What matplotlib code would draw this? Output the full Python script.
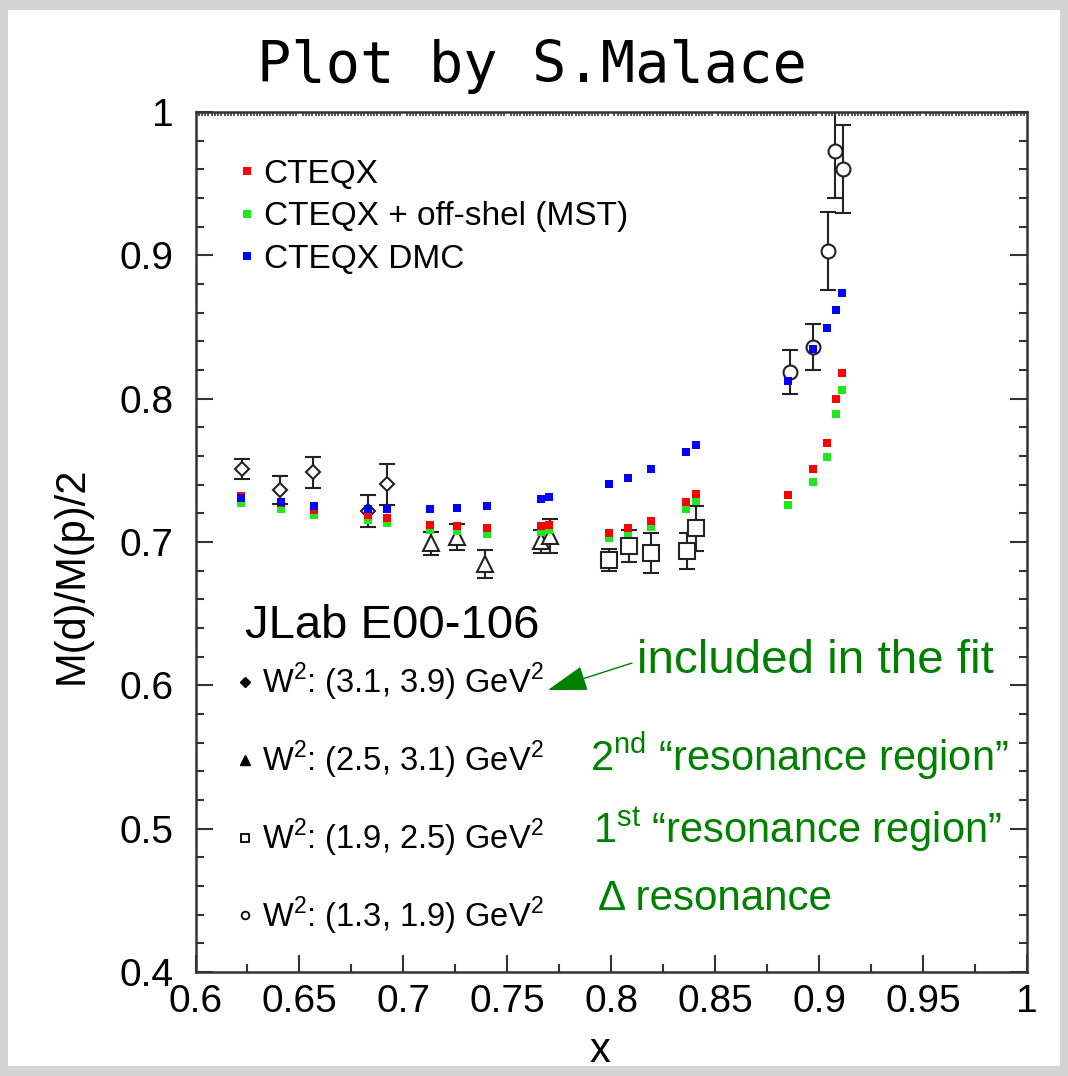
"""Deuteron/proton ratio vs x with CTEQX model curves and JLab E00-106 data."""

import matplotlib
matplotlib.use('Agg')
import matplotlib.pyplot as plt
from matplotlib.lines import Line2D
from matplotlib.patches import Rectangle
from matplotlib.ticker import MultipleLocator, FuncFormatter
import numpy as np

plt.rcParams['font.family'] = ['Liberation Sans', 'DejaVu Sans']
plt.rcParams['mathtext.fontset'] = 'custom'
plt.rcParams['mathtext.rm'] = 'Liberation Sans'

# model points (same x for all three curves)
x_model = [0.622, 0.641, 0.657, 0.683, 0.692, 0.713, 0.726, 0.740, 0.766, 0.770,
           0.799, 0.808, 0.819, 0.836, 0.841, 0.885, 0.897, 0.904, 0.908, 0.911]
cteqx = [0.732, 0.727, 0.722, 0.719, 0.7165, 0.712, 0.711, 0.7095, 0.711, 0.712,
         0.7065, 0.710, 0.7148, 0.728, 0.7334, 0.733, 0.7506, 0.769, 0.800, 0.818]
cteqx_mst = [0.727, 0.7227, 0.719, 0.7153, 0.713, 0.7083, 0.7076, 0.7055, 0.707, 0.7083,
             0.7025, 0.706, 0.7106, 0.7227, 0.7285, 0.7258, 0.742, 0.7595, 0.789, 0.806]
cteqx_dmc = [0.731, 0.7276, 0.725, 0.7227, 0.7227, 0.723, 0.7239, 0.7251, 0.7299, 0.7311,
             0.7402, 0.7448, 0.7507, 0.763, 0.7676, 0.8125, 0.835, 0.8495, 0.8618, 0.8739]

# JLab E00-106 data, by W^2 bin
x_w4 = [0.6222, 0.6406, 0.6567, 0.6828, 0.6919]
y_w4 = [0.7507, 0.7362, 0.7486, 0.7215, 0.7402]
e_w4 = [0.007, 0.010, 0.011, 0.011, 0.0145]

x_w3 = [0.7132, 0.7259, 0.7395, 0.7664, 0.7704]
y_w3 = [0.699, 0.7037, 0.6846, 0.7006, 0.704]
e_w3 = [0.008, 0.009, 0.010, 0.008, 0.012]

x_w2 = [0.7988, 0.8084, 0.8193, 0.8362, 0.841]
y_w2 = [0.6874, 0.6971, 0.6925, 0.6937, 0.7095]
e_w2 = [0.0075, 0.011, 0.014, 0.0125, 0.0155]

x_w1 = [0.8858, 0.897, 0.9042, 0.9075, 0.9114]
y_w1 = [0.8186, 0.8362, 0.903, 0.973, 0.9602]
e_w1 = [0.0152, 0.016, 0.027, 0.033, 0.031]

W = 1068
H = 1076
fig = plt.figure(figsize=(W / 100, H / 100), dpi=100)
fig.patch.set_facecolor('#d3d3d3')
fig.add_artist(Rectangle((8 / W, 10 / H), (1060 - 8) / W, (1066 - 10) / H,
                         transform=fig.transFigure, facecolor='white',
                         edgecolor='none', zorder=0))

ax = fig.add_axes([195.5 / W, 104 / H, 831.5 / W, 860 / H])
ax.set_facecolor('white')

# --- data with error bars ---
ebar = dict(ls='none', color='#222222', ecolor='#222222', elinewidth=1.5,
            capsize=6, capthick=1.5, mfc='white', mec='#222222', mew=1.5, zorder=3)
ax.errorbar(x_w4, y_w4, yerr=e_w4, marker='D', ms=6.8, **ebar)
ax.errorbar(x_w3, y_w3, yerr=e_w3, marker='^', ms=12, **ebar)
ax.errorbar(x_w2, y_w2, yerr=e_w2, marker='s', ms=12, **ebar)
ax.errorbar(x_w1, y_w1, yerr=e_w1, marker='o', ms=10, **ebar)

# --- model curves (small filled squares) ---
h_red, = ax.plot(x_model, cteqx, 's', color='#ff0000', ms=5.5, mew=0, zorder=5)
h_grn, = ax.plot(x_model, cteqx_mst, 's', color='#1ee81e', ms=5.5, mew=0, zorder=4)
h_blu, = ax.plot(x_model, cteqx_dmc, 's', color='#0000ff', ms=5.5, mew=0, zorder=6)

leg1 = ax.legend([h_red, h_grn, h_blu],
                 ['CTEQX', 'CTEQX + off-shel (MST)', 'CTEQX DMC'],
                 loc='upper left', bbox_to_anchor=(0.054, 0.9455), frameon=False,
                 fontsize=24, handlelength=0.4, handletextpad=0.3,
                 labelspacing=0.34, borderpad=0, borderaxespad=0)
ax.add_artist(leg1)

k = dict(ls='none', color='black')
proxies = [Line2D([], [], marker='D', ms=5, mfc='black', mec='black', **k),
           Line2D([], [], marker='^', ms=7, mfc='black', mec='black', **k),
           Line2D([], [], marker='s', ms=5.5, mfc='white', mec='black', mew=1.3, **k),
           Line2D([], [], marker='o', ms=5.5, mfc='white', mec='black', mew=1.3, **k)]
w2_labels = [r'W$^{\mathregular{2}}$: (3.1, 3.9) GeV$^{\mathregular{2}}$',
             r'W$^{\mathregular{2}}$: (2.5, 3.1) GeV$^{\mathregular{2}}$',
             r'W$^{\mathregular{2}}$: (1.9, 2.5) GeV$^{\mathregular{2}}$',
             r'W$^{\mathregular{2}}$: (1.3, 1.9) GeV$^{\mathregular{2}}$']
ax.legend(proxies, w2_labels, loc='upper left', bbox_to_anchor=(0.052, 0.3615),
          frameon=False, fontsize=23.5, handlelength=0.4, handletextpad=0.3,
          labelspacing=1.09, borderpad=0, borderaxespad=0)

ax.text(0.0595, 0.3884, 'JLab E00-106', transform=ax.transAxes, fontsize=34,
        va='baseline', ha='left')

green = '#008000'
ax.text(0.531, 0.3477, 'included in the fit', transform=ax.transAxes,
        fontsize=34.2, color=green, va='baseline')
ax.text(0.4745, 0.2345, '2$^{\\mathregular{nd}}$ \u201cresonance region\u201d',
        transform=ax.transAxes, fontsize=30, color=green, va='baseline')
ax.text(0.478, 0.150, '1$^{\\mathregular{st}}$ \u201cresonance region\u201d',
        transform=ax.transAxes, fontsize=30, color=green, va='baseline')
ax.text(0.484, 0.0725, '\u0394 resonance', transform=ax.transAxes,
        fontsize=30.3, color=green, va='baseline')
ax.annotate('', xy=(0.4239, 0.3279), xytext=(0.525, 0.3593),
            xycoords='axes fraction', textcoords='axes fraction',
            arrowprops=dict(arrowstyle='-|>,head_length=2.5,head_width=0.8',
                            mutation_scale=10, color=green, lw=1,
                            shrinkA=0, shrinkB=0))

# --- axes ---
ax.set_xlim(0.6, 1.0)
ax.set_ylim(0.4, 1.0)
ax.xaxis.set_major_locator(MultipleLocator(0.05))
ax.xaxis.set_minor_locator(MultipleLocator(0.025))
ax.yaxis.set_major_locator(MultipleLocator(0.1))
ax.yaxis.set_minor_locator(MultipleLocator(0.02))
fmt = FuncFormatter(lambda v, p: '%g' % round(v, 3))
ax.xaxis.set_major_formatter(fmt)
ax.yaxis.set_major_formatter(fmt)

ax.tick_params(which='both', direction='in', top=True, right=True,
               color='#333333', width=1.5)
ax.tick_params(which='major', length=12)
ax.tick_params(which='minor', length=6)
ax.tick_params(axis='x', which='major', labelsize=28, pad=9)
ax.tick_params(axis='y', which='major', labelsize=28, pad=16)
for s in ax.spines.values():
    s.set_linewidth(1.8)
    s.set_color('#333333')

# dense tiny ticks along the top edge
top = ax.twiny()
top.set_xlim(ax.get_xlim())
top.xaxis.set_major_locator(MultipleLocator(0.05))
top.xaxis.set_minor_locator(MultipleLocator(0.025 / 16))
top.tick_params(which='major', length=0, labeltop=False)
top.tick_params(which='minor', direction='in', length=3, width=1.2, color='#333333')
for s in top.spines.values():
    s.set_visible(False)

ax.set_ylabel('M(d)/M(p)/2', fontsize=30)
ax.yaxis.set_label_coords(-0.1245, 0.4616)
ax.set_xlabel('x', fontsize=30)
ax.xaxis.set_label_coords(0.4865, -0.0686)

fig.text(532 / W, 1 - 66 / H, 'Plot by S.Malace', family='DejaVu Sans Mono',
         fontsize=41, ha='center', va='center')

plt.savefig('out.png', dpi=100, facecolor=fig.get_facecolor())
